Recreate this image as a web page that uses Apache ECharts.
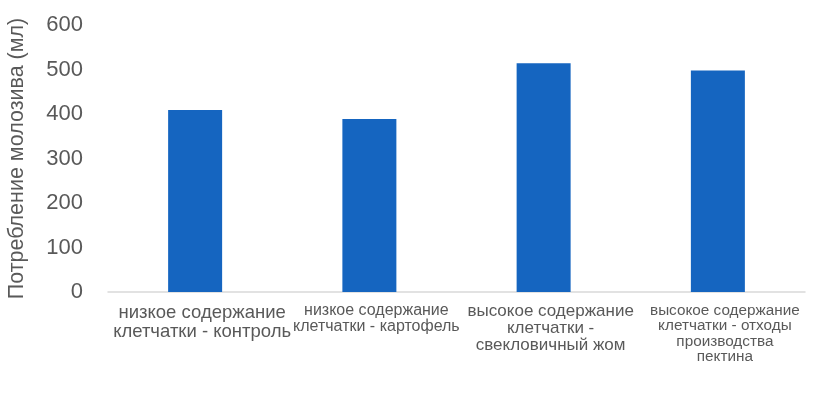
<!DOCTYPE html>
<html>
<head>
<meta charset="utf-8">
<script src="https://cdn.jsdelivr.net/npm/echarts@6/dist/echarts.min.js"></script>
<style>
  html, body { margin: 0; padding: 0; background: #fff; }
  #chart { width: 820px; height: 412px; }
</style>
</head>
<body>
<div id="chart"></div>
<script>
// категории (подписи оси X)
var categories = [
    'низкое содержание\nклетчатки - контроль',
    'низкое содержание\nклетчатки - картофель',
    'высокое содержание\nклетчатки -\nсвекловичный жом',
    'высокое содержание\nклетчатки - отходы\nпроизводства\nпектина'
];
// потребление молозива, мл
var intake = [409, 389, 514, 498];
// деления оси Y
var yMin = 0;
var yMax = 600;
var yStep = 100;
// стиль подписи для каждой категории (Excel ужимает шрифт)
var labelStyle = ['c0', 'c1', 'c2', 'c3'];

var chart = echarts.init(document.getElementById('chart'));
var textColor = '#595959';
var fontName = '"Liberation Sans", Arial, sans-serif';

function rs(size, lh) {
    return { fontSize: size, lineHeight: lh, color: textColor, fontFamily: fontName };
}

chart.setOption({
    animation: false,
    grid: {
        left: 108,
        right: 15,
        top: 25,
        bottom: 120,
        containLabel: false,
        outerBoundsMode: 'none'
    },
    xAxis: {
        type: 'category',
        data: categories,
        axisLine: { lineStyle: { color: '#d9d9d9', width: 1.5 } },
        axisTick: { show: false },
        axisLabel: {
            interval: 0,
            margin: 11,
            padding: [0, 0, 0, 14],
            formatter: function (value, idx) {
                var s = labelStyle[idx];
                return value.split('\n').map(function (line) {
                    return '{' + s + '|' + line + '}';
                }).join('\n');
            },
            rich: {
                c0: rs(18.5, 19),
                c1: rs(16, 15.5),
                c2: rs(17, 17),
                c3: rs(15.3, 15.5)
            }
        }
    },
    yAxis: {
        type: 'value',
        min: yMin,
        max: yMax,
        interval: yStep,
        name: 'Потребление молозива (мл)',
        nameLocation: 'middle',
        nameGap: 80,
        nameTextStyle: { fontSize: 21.5, color: textColor, fontFamily: fontName },
        splitLine: { show: false },
        axisLine: { show: false },
        axisTick: { show: false },
        axisLabel: {
            margin: 25,
            fontSize: 22,
            color: textColor,
            fontFamily: fontName
        }
    },
    series: [{
        type: 'bar',
        data: intake,
        barWidth: 54,
        itemStyle: { color: '#1565c0' }
    }]
});
</script>
</body>
</html>
